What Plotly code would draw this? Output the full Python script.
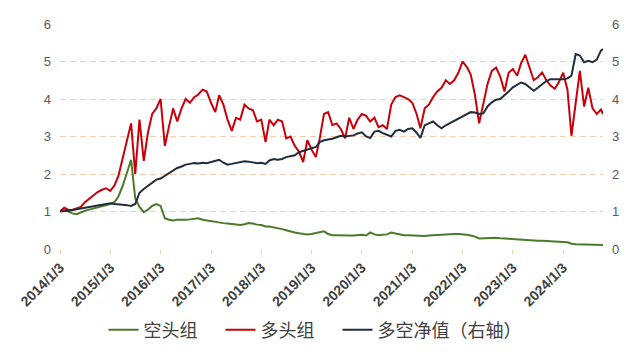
import plotly.graph_objects as go

# dates: monthly observations (3rd of month) 2014/1 .. 2024/10 plus final point
dates = [f"{y}-{m:02d}-03" for y in range(2014, 2025) for m in range(1, 13)
         if not (y == 2024 and m > 10)] + ["2024-10-18"]

short_group = [  # 空头组
    1.00, 1.08, 1.00, 0.95, 0.93, 0.98, 1.02, 1.05, 1.08, 1.10, 1.15, 1.18,
    1.20, 1.25, 1.40, 1.68, 2.05, 2.38, 1.35, 1.12, 0.98, 1.05, 1.15, 1.20,
    1.15, 0.82, 0.78, 0.76, 0.78, 0.77, 0.78, 0.79, 0.80, 0.82, 0.78, 0.76,
    0.75, 0.72, 0.70, 0.69, 0.68, 0.66, 0.65, 0.64, 0.66, 0.69, 0.68, 0.65,
    0.64, 0.60, 0.60, 0.58, 0.56, 0.53, 0.50, 0.46, 0.44, 0.42, 0.40, 0.39,
    0.40, 0.43, 0.46, 0.47, 0.40, 0.37, 0.37, 0.36, 0.37, 0.36, 0.36, 0.37,
    0.38, 0.36, 0.44, 0.39, 0.37, 0.38, 0.39, 0.44, 0.41, 0.38, 0.37, 0.37,
    0.36, 0.37, 0.35, 0.35, 0.36, 0.37, 0.38, 0.38, 0.40, 0.41, 0.40, 0.40,
    0.40, 0.38, 0.36, 0.33, 0.28, 0.29, 0.30, 0.30, 0.30, 0.29, 0.28, 0.27,
    0.26, 0.25, 0.25, 0.24, 0.23, 0.22, 0.22, 0.22, 0.21, 0.21, 0.20, 0.19,
    0.19, 0.18, 0.14, 0.13, 0.13, 0.13, 0.12, 0.12, 0.11, 0.11, 0.11,
]

long_group = [  # 多头组
    1.00, 1.10, 1.05, 1.04, 1.08, 1.12, 1.25, 1.35, 1.45, 1.52, 1.58, 1.62,
    1.55, 1.70, 1.95, 2.40, 2.90, 3.35, 2.00, 3.45, 2.35, 3.10, 3.60, 3.75,
    4.00, 2.75, 3.25, 3.75, 3.40, 3.75, 4.00, 3.90, 4.05, 4.12, 4.25, 4.20,
    3.90, 3.65, 4.10, 3.85, 3.45, 3.15, 3.50, 3.45, 3.85, 3.75, 3.70, 3.40,
    3.45, 2.85, 3.45, 3.30, 3.45, 3.40, 2.95, 3.00, 2.75, 2.60, 2.32, 2.90,
    2.65, 2.45, 2.95, 3.60, 3.65, 3.30, 3.35, 3.20, 2.95, 3.50, 3.20, 3.45,
    3.60, 3.55, 3.40, 3.50, 3.25, 3.30, 3.20, 3.85, 4.05, 4.10, 4.05, 4.00,
    3.90, 3.60, 3.22, 3.75, 3.85, 4.05, 4.20, 4.30, 4.50, 4.40, 4.50, 4.70,
    5.00, 4.85, 4.65, 4.10, 3.35, 3.90, 4.40, 4.75, 4.84, 4.60, 4.20, 4.70,
    4.80, 4.62, 4.95, 5.18, 4.85, 4.50, 4.58, 4.71, 4.50, 4.36, 4.27, 4.45,
    4.70, 4.25, 3.02, 3.90, 4.75, 3.80, 4.30, 3.75, 3.60, 3.72, 3.60,
]

long_short_nav = [  # 多空净值（右轴）
    1.00, 1.00, 1.02, 1.04, 1.06, 1.08, 1.10, 1.12, 1.15, 1.17, 1.18, 1.20,
    1.22, 1.20, 1.20, 1.18, 1.17, 1.15, 1.20, 1.50, 1.60, 1.68, 1.78, 1.85,
    1.88, 1.95, 2.03, 2.08, 2.16, 2.20, 2.25, 2.27, 2.29, 2.28, 2.30, 2.29,
    2.32, 2.36, 2.38, 2.30, 2.25, 2.27, 2.29, 2.30, 2.34, 2.33, 2.31, 2.29,
    2.30, 2.27, 2.36, 2.40, 2.38, 2.40, 2.45, 2.48, 2.50, 2.58, 2.62, 2.66,
    2.70, 2.72, 2.85, 2.90, 2.92, 2.94, 2.98, 3.02, 3.00, 3.02, 3.03, 3.08,
    3.11, 3.00, 2.96, 3.13, 3.15, 3.09, 3.05, 3.00, 3.15, 3.18, 3.13, 3.20,
    3.22, 3.10, 2.96, 3.30, 3.35, 3.40, 3.30, 3.22, 3.30, 3.36, 3.40, 3.48,
    3.53, 3.60, 3.65, 3.64, 3.60, 3.62, 3.80, 3.91, 3.98, 4.00, 4.09, 4.20,
    4.31, 4.38, 4.44, 4.40, 4.31, 4.22, 4.30, 4.40, 4.48, 4.53, 4.52, 4.53,
    4.53, 4.55, 4.62, 5.20, 5.16, 4.98, 5.02, 4.98, 5.05, 5.29, 5.33,
]

tick_dates = [f"{y}-01-03" for y in range(2014, 2025)]
tick_text = [f"{y}/1/3" for y in range(2014, 2025)]
y_ticks = [0, 1, 2, 3, 4, 5, 6]

GREEN = "#4A7A2A"
RED = "#C8000A"
NAVY = "#232C3A"
GRID = "#F8CDB0"
PAD = "\u3000"  # spacing after the first two legend entries

fig = go.Figure()
fig.add_trace(go.Scatter(x=dates, y=short_group, name="空头组" + PAD, mode="lines",
                         line=dict(color=GREEN, width=2)))
fig.add_trace(go.Scatter(x=dates, y=long_group, name="多头组" + PAD, mode="lines",
                         line=dict(color=RED, width=2)))
fig.add_trace(go.Scatter(x=dates, y=long_short_nav, name="多空净值（右轴）", mode="lines",
                         line=dict(color=NAVY, width=2), yaxis="y2"))

fig.update_layout(
    width=630, height=354,
    margin=dict(l=60, r=27, t=24, b=105, autoexpand=False),
    paper_bgcolor="white", plot_bgcolor="white",
    font=dict(family="Noto Sans CJK SC, Liberation Sans", color="#404040"),
    showlegend=True,
    legend=dict(orientation="h", xref="container", yref="container",
                x=0.5, xanchor="center", y=0.068, yanchor="middle",
                font=dict(size=18, color="#404040", family="Noto Sans CJK SC"),
                itemwidth=30, tracegroupgap=0, traceorder="normal"),
    xaxis=dict(type="date", range=["2014-01-03", "2024-10-18"],
               tickvals=tick_dates, ticktext=tick_text, tickangle=-45,
               tickfont=dict(family="Liberation Sans", size=14, color="#404040",
                             weight="bold"),
               ticks="outside", ticklen=4, tickcolor=GRID, showgrid=False,
               showline=False, zeroline=False, automargin=False),
    yaxis=dict(range=[0, 6], tickvals=y_ticks, showgrid=True, gridcolor=GRID,
               griddash="6px,4px", gridwidth=1, zeroline=False, showline=False,
               tickfont=dict(family="Liberation Sans", size=13, color="#595959"),
               ticklabelstandoff=8, automargin=False),
    yaxis2=dict(range=[0, 6], tickvals=y_ticks, overlaying="y", side="right",
                showgrid=False, zeroline=False, showline=False,
                tickfont=dict(family="Liberation Sans", size=13, color="#595959"),
                ticklabelstandoff=8, automargin=False),
)

fig.write_html("out.html")
